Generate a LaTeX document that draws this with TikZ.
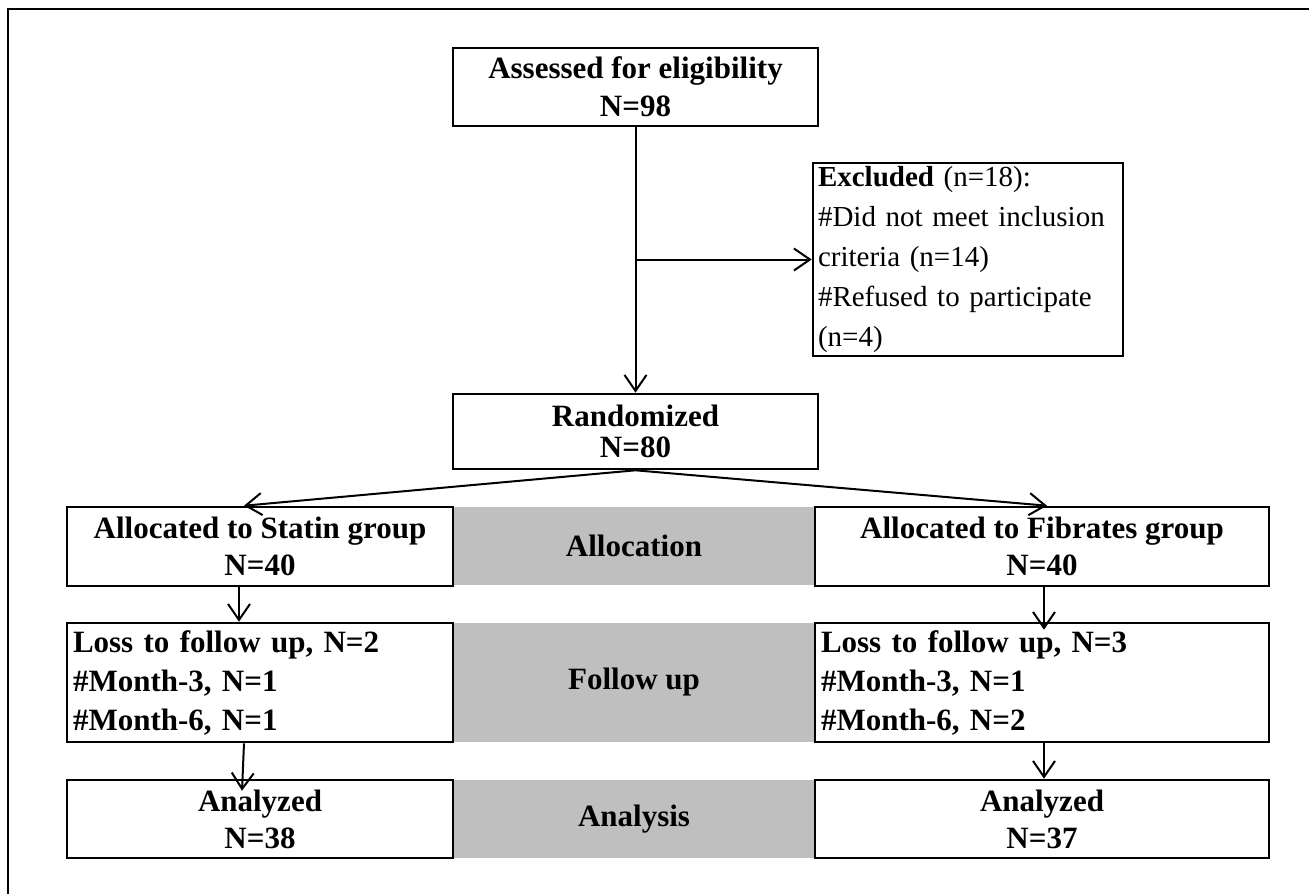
\documentclass[tikz,border=0pt]{standalone}
\usepackage{fontspec}
\setmainfont{Liberation Serif}
\usetikzlibrary{arrows.meta}
\definecolor{bandgray}{RGB}{191,191,191}
\newcommand\myfb[1]{\fontsize{31}{#1}\selectfont\bfseries}
\newcommand\myfr[1]{\fontsize{29}{#1}\selectfont}
\begin{document}
\begin{tikzpicture}[x=1pt,y=-1pt,
  box/.style={draw, line width=2.6pt, fill=white, inner sep=0pt, align=center},
  lbox/.style={draw, line width=2.6pt, fill=white, inner ysep=0pt, inner xsep=6pt, align=left},
  band/.style={fill=bandgray, draw=none, inner sep=0pt, align=center},
  arr/.style={line width=2pt, -{Straight Barb[length=16pt,width=22pt]}}]
\useasboundingbox (0,0) rectangle (1309,894);
\draw[line width=2pt] (8,9) rectangle (1400,1000);
% grey bands
\node[band, minimum width=362pt, minimum height=78pt, font=\myfb{36}] (allocg) at (634,546) {Allocation};
\node[band, minimum width=362pt, minimum height=119pt, font=\myfb{36}] (fug) at (634,682.5) {Follow up};
\node[band, minimum width=362pt, minimum height=78pt, font=\myfb{36}] (ang) at (634,819) {Analysis};
% boxes
\node[box, minimum width=365pt, minimum height=78pt, font=\myfb{38}] (assess) at (635.5,87) {Assessed for eligibility\\N=98};
\node[lbox, inner xsep=5pt, text width=300pt, minimum height=193pt, font=\myfr{40}] (excl) at (968,259.5) {\textbf{Excluded} (n=18):\\\#Did not meet inclusion\\criteria (n=14)\\\#Refused to participate\\(n=4)};
\node[box, minimum width=365pt, minimum height=75pt, font=\myfb{31}] (rand) at (635.5,431.5) {Randomized\\N=80};
\node[box, minimum width=386pt, minimum height=79pt, font=\myfb{37}] (statin) at (260,546.5) {Allocated to Statin group\\N=40};
\node[box, minimum width=454pt, minimum height=79pt, font=\myfb{37}] (fibr) at (1042,546.5) {Allocated to Fibrates group\\N=40};
\node[lbox, text width=374pt, minimum height=119pt, font=\myfb{39}] (fuL) at (260,682.5) {Loss to follow up, N=2\\\#Month-3, N=1\\\#Month-6, N=1};
\node[lbox, text width=442pt, minimum height=119pt, font=\myfb{39}] (fuR) at (1042,682.5) {Loss to follow up, N=3\\\#Month-3, N=1\\\#Month-6, N=2};
\node[box, minimum width=386pt, minimum height=78pt, font=\myfb{37}] (anL) at (260,819) {Analyzed\\N=38};
\node[box, minimum width=454pt, minimum height=78pt, font=\myfb{37}] (anR) at (1042,819) {Analyzed\\N=37};
% connectors
\draw[arr] (assess.south) -- (rand.north);
\coordinate (br) at (assess.south |- excl.west);
\draw[arr] (br) -- (excl.west);
\draw[arr] (rand.south) -- ([xshift=-16pt]statin.north);
\draw[arr] (rand.south) -- ([xshift=5pt]fibr.north);
\draw[arr] ([xshift=-21pt]statin.south) -- ([xshift=-21pt]fuL.north);
\draw[arr] ([xshift=-16pt]fuL.south) -- ([xshift=-18pt,yshift=-12pt]anL.north);
\draw[arr] ([xshift=2pt]fibr.south) -- ([xshift=2pt,yshift=-8pt]fuR.north);
\draw[arr] ([xshift=2pt]fuR.south) -- ([xshift=2pt]anR.north);
\end{tikzpicture}
\end{document}
